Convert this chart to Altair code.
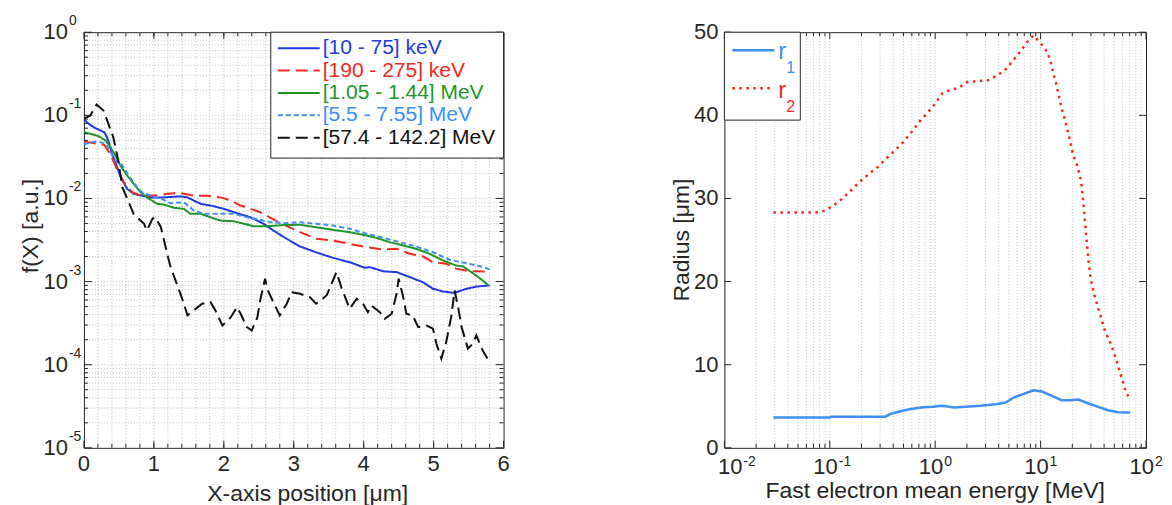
import altair as alt
import pandas as pd

FONT = "Liberation Sans"
AX = "#262626"
GRID = "#c4c4c4"
W1, W2, H = 420, 422, 416
LAB = 22      # tick label size
EXP = 14      # exponent size
TIT = 23      # axis title size

# ---------------- left panel data ----------------
names_left = ["[10 - 75] keV", "[190 - 275] keV", "[1.05 - 1.44] MeV",
              "[5.5 - 7.55] MeV", "[57.4 - 142.2] MeV"]
colors_left = ["#1f3be0", "#ee2b1f", "#20962a", "#3d8ef5", "#111111"]
dash_left = [[1, 0], [12, 6], [1, 0], [5, 3], [12, 6]]

x_blue = [0, 0.07, 0.14, 0.21, 0.29, 0.33, 0.37, 0.40, 0.45, 0.50, 0.55, 0.62, 0.71, 0.83, 0.95,
          1.14, 1.38, 1.48, 1.57, 1.67, 1.81, 2.00, 2.19, 2.38, 2.57, 2.71, 2.86, 3.09, 3.32,
          3.56, 3.80, 4.01, 4.09, 4.28, 4.47, 4.66, 4.85, 4.99, 5.13, 5.30, 5.47, 5.61, 5.80]
f_blue = [0.0887, 0.0789, 0.0718, 0.0673, 0.0625, 0.0545, 0.0433, 0.0344, 0.0272, 0.0207, 0.0164,
          0.0130, 0.0114, 0.0108, 0.0103, 0.0103, 0.0106, 0.0103, 0.00944, 0.00861, 0.00822, 0.0075,
          0.00664, 0.00594, 0.00495, 0.00411, 0.00342, 0.00264, 0.00225, 0.00193, 0.00171, 0.00147,
          0.00149, 0.00133, 0.0013, 0.00113, 0.00098, 0.00082, 0.00076, 0.00073, 0.00082, 0.00087, 0.0009]

x_red = [0, 0.07, 0.19, 0.29, 0.36, 0.43, 0.50, 0.60, 0.69, 0.81, 0.95, 1.10, 1.19, 1.38, 1.57,
         1.76, 1.95, 2.10, 2.24, 2.38, 2.52, 2.66, 2.81, 3.09, 3.32, 3.56, 3.80, 4.04, 4.28, 4.47,
         4.66, 4.85, 4.99, 5.18, 5.32, 5.51, 5.80]
f_red = [0.049, 0.0473, 0.0453, 0.0441, 0.0359, 0.0272, 0.0198, 0.0143, 0.0119, 0.0108, 0.0108,
         0.011, 0.0114, 0.0116, 0.0108, 0.0108, 0.0103, 0.00944, 0.00822, 0.0075, 0.00682, 0.00589,
         0.00504, 0.00393, 0.00327, 0.00312, 0.00284, 0.00259, 0.00243, 0.00248, 0.00216, 0.0020,
         0.00171, 0.00164, 0.00143, 0.00133, 0.00132]

x_green = [0, 0.10, 0.21, 0.31, 0.38, 0.45, 0.52, 0.62, 0.71, 0.81, 0.93, 1.05, 1.14, 1.29, 1.43,
           1.52, 1.67, 1.81, 1.95, 2.14, 2.29, 2.43, 2.62, 2.85, 3.09, 3.32, 3.56, 3.80, 4.04, 4.18,
           4.37, 4.56, 4.75, 4.94, 5.13, 5.32, 5.42, 5.61, 5.78]
f_green = [0.0625, 0.0597, 0.056, 0.0497, 0.0412, 0.0328, 0.0249, 0.0188, 0.015, 0.0119, 0.00989,
           0.00861, 0.00845, 0.00771, 0.0075, 0.00653, 0.00653, 0.00594, 0.00542, 0.00532, 0.00495,
           0.00463, 0.00463, 0.00479, 0.00482, 0.00451, 0.00419, 0.00393, 0.00358, 0.00336, 0.00298,
           0.00272, 0.00248, 0.00216, 0.0018, 0.00156, 0.00152, 0.00118, 0.00091]

x_lblue = [0, 0.10, 0.21, 0.31, 0.38, 0.45, 0.55, 0.64, 0.74, 0.83, 0.95, 1.10, 1.24, 1.43, 1.57,
           1.71, 1.90, 2.14, 2.33, 2.52, 2.67, 2.85, 3.09, 3.32, 3.56, 3.80, 4.04, 4.28, 4.51, 4.75,
           4.99, 5.23, 5.47, 5.70, 5.80]
f_lblue = [0.0445, 0.0473, 0.0483, 0.0453, 0.0359, 0.0286, 0.0249, 0.0188, 0.0143, 0.0119, 0.0108,
           0.0100, 0.00875, 0.0090, 0.00716, 0.00653, 0.00653, 0.00653, 0.00594, 0.00553, 0.00518,
           0.00504, 0.00518, 0.00495, 0.00472, 0.00432, 0.00376, 0.00336, 0.00298, 0.00264, 0.00225,
           0.00183, 0.00166, 0.0015, 0.0014]

x_black = [0, 0.09, 0.18, 0.28, 0.35, 0.42, 0.49, 0.55, 0.62, 0.71, 0.86, 0.90, 0.98, 1.02, 1.10,
           1.14, 1.19, 1.24, 1.31, 1.38, 1.43, 1.48, 1.57, 1.69, 1.81, 1.88, 1.98, 2.10, 2.19, 2.24,
           2.33, 2.40, 2.48, 2.52, 2.59, 2.63, 2.73, 2.80, 2.90, 2.97, 3.09, 3.23, 3.32, 3.47, 3.56,
           3.61, 3.68, 3.80, 3.90, 3.99, 4.06, 4.11, 4.23, 4.30, 4.40, 4.47, 4.50, 4.56, 4.61, 4.70,
           4.78, 4.90, 4.99, 5.04, 5.11, 5.18, 5.25, 5.30, 5.35, 5.40, 5.49, 5.56, 5.61, 5.70, 5.80]
f_black = [0.0912, 0.099, 0.135, 0.114, 0.0789, 0.0545, 0.0286, 0.0136, 0.00989, 0.00653,
           0.00495, 0.00411, 0.00569, 0.00594, 0.00451, 0.00327, 0.00216, 0.00149, 0.00103, 0.000713,
           0.000541, 0.000392, 0.00045, 0.000541, 0.000565, 0.00045, 0.000296, 0.000373, 0.000492, 0.00041,
           0.000283, 0.000258, 0.000373, 0.000593, 0.00108, 0.000782, 0.000516, 0.000392, 0.000541, 0.000746,
           0.000713, 0.00065, 0.000541, 0.000681, 0.00103, 0.0013, 0.000857, 0.000471, 0.000621, 0.000541,
           0.000429, 0.000516, 0.000429, 0.000357, 0.00041, 0.000713, 0.00108, 0.000681, 0.00041, 0.000392,
           0.000283, 0.000296, 0.000271, 0.000179, 0.000118, 0.000187, 0.000373, 0.000782, 0.000492, 0.000283,
           0.000156, 0.000179, 0.000225, 0.000149, 0.000107]

left_x_ticks = [0, 1, 2, 3, 4, 5, 6]
left_x_labels = ["0", "1", "2", "3", "4", "5", "6"]
left_y_ticks = [1e-5, 1e-4, 1e-3, 1e-2, 1e-1, 1]
left_y_exps = ["-5", "-4", "-3", "-2", "-1", "0"]
left_x_title = "X-axis position [μm]"
left_y_title = "f(X) [a.u.]"

# ---------------- right panel data ----------------
E_r2 = [0.0292, 0.0427, 0.0569, 0.0697, 0.0847, 0.100, 0.122, 0.151, 0.188, 0.233, 0.280, 0.343,
        0.417, 0.499, 0.597, 0.716, 0.845, 1.00, 1.16, 1.35, 1.66, 2.02, 2.51, 3.12, 3.74, 4.57,
        5.48, 6.43, 7.43, 8.59, 10.3, 11.7, 12.6, 13.3, 14.0, 14.6, 15.3, 16.1, 17.1, 18.0, 18.8,
        19.7, 20.8, 22.3, 23.7, 24.5, 25.5, 26.4, 27.4, 28.4, 29.9, 32.8, 36.6, 40.7, 47.1, 52.5,
        58.5, 65.2, 70.8]
r2 = [28.3, 28.3, 28.3, 28.3, 28.4, 28.9, 29.6, 30.7, 31.9, 32.9, 33.7, 34.8, 35.8, 36.8, 38.0,
      39.3, 40.3, 41.4, 42.6, 43.0, 43.3, 44.0, 44.1, 44.2, 44.7, 45.4, 46.6, 47.7, 48.8, 49.6,
      48.5, 47.5, 46.2, 44.9, 43.9, 42.8, 41.7, 40.5, 39.4, 38.3, 37.2, 36.0, 34.9, 33.9, 32.7,
      31.5, 29.3, 27.1, 24.8, 22.6, 20.3, 18.1, 16.1, 14.1, 12.3, 10.5, 8.5, 6.5, 6.0]
E_r1 = [0.0292, 0.100, 0.102, 0.336, 0.374, 0.457, 0.569, 0.733, 0.944, 1.17, 1.51, 1.95, 2.69,
        3.74, 4.65, 5.56, 6.92, 8.59, 10.3, 12.8, 15.8, 19.1, 22.8, 28.4, 35.2, 43.6, 54.4, 70.8]
r1 = [3.64, 3.64, 3.75, 3.75, 4.05, 4.37, 4.65, 4.85, 4.93, 5.05, 4.85, 4.93, 5.05, 5.25, 5.45,
      6.05, 6.5, 6.93, 6.77, 6.25, 5.73, 5.73, 5.8, 5.33, 4.93, 4.53, 4.29, 4.24]
col_r1, col_r2 = "#3d8ef5", "#ee2b1f"

right_x_ticks = [0.01, 0.1, 1, 10, 100]
right_x_exps = ["-2", "-1", "0", "1", "2"]
right_y_ticks = [0, 10, 20, 30, 40, 50]
right_y_labels = ["0", "10", "20", "30", "40", "50"]
right_x_title = "Fast electron mean energy [MeV]"
right_y_title = "Radius [μm]"

one = pd.DataFrame({"k": [0]})


def vrules(vals, scale, **mk):
    return alt.Chart(pd.DataFrame({"g": vals})).mark_rule(**mk).encode(
        x=alt.X("g:Q", scale=scale, axis=None))


def hrules(vals, scale, **mk):
    return alt.Chart(pd.DataFrame({"g": vals})).mark_rule(**mk).encode(
        y=alt.Y("g:Q", scale=scale, axis=None))


def xticks(vals, scale, length):
    d = pd.DataFrame({"t": vals})
    xe = alt.X("t:Q", scale=scale, axis=None)
    b = alt.Chart(d).mark_rule(color=AX, strokeWidth=1).encode(
        x=xe, y=alt.value(H), y2=alt.value(H - length))
    t = alt.Chart(d).mark_rule(color=AX, strokeWidth=1).encode(
        x=xe, y=alt.value(0), y2=alt.value(length))
    return [b, t]


def yticks(vals, scale, length, width):
    d = pd.DataFrame({"t": vals})
    ye = alt.Y("t:Q", scale=scale, axis=None)
    l = alt.Chart(d).mark_rule(color=AX, strokeWidth=1).encode(
        y=ye, x=alt.value(0), x2=alt.value(length))
    r = alt.Chart(d).mark_rule(color=AX, strokeWidth=1).encode(
        y=ye, x=alt.value(width), x2=alt.value(width - length))
    return [l, r]


def title_text(txt, x, y, angle=0):
    kw = dict(font=FONT, fontSize=TIT, color=AX, align="center", text=txt)
    if angle:
        kw["angle"] = angle
        kw["baseline"] = "middle"
    else:
        kw["baseline"] = "alphabetic"
    return alt.Chart(one).mark_text(**kw).encode(x=alt.value(x), y=alt.value(y))


gridstyle = dict(color=GRID, strokeDash=[1, 2], strokeWidth=1)

# ================= LEFT PANEL =================
xsL = alt.Scale(domain=[0, 6], nice=False, zero=False)
ysL = alt.Scale(type="log", domain=[1e-5, 1], nice=False)

left_series = [(x_blue, f_blue), (x_red, f_red), (x_green, f_green),
               (x_lblue, f_lblue), (x_black, f_black)]
rows = []
for name, (xs, fs) in zip(names_left, left_series):
    for xv, fv in zip(xs, fs):
        rows.append({"x": xv, "f": fv, "series": name})
dfL = pd.DataFrame(rows)

minor_x = [round(0.2 * i, 1) for i in range(1, 30)]
minor_y = [k * 10.0 ** d for d in range(-5, 0) for k in range(1, 10) if not (d == -5 and k == 1)]
minor_y_only = [k * 10.0 ** d for d in range(-5, 0) for k in range(2, 10)]

lines_L = alt.Chart(dfL).mark_line(strokeWidth=2, clip=True).encode(
    x=alt.X("x:Q", scale=xsL, axis=None),
    y=alt.Y("f:Q", scale=ysL, axis=None),
    color=alt.Color("series:N", scale=alt.Scale(domain=names_left, range=colors_left), legend=None),
    strokeDash=alt.StrokeDash("series:N", scale=alt.Scale(domain=names_left, range=dash_left),
                              legend=None),
)

lab_x_L = alt.Chart(pd.DataFrame({"t": left_x_ticks, "lab": left_x_labels})).mark_text(
    font=FONT, fontSize=LAB, color=AX, align="center", baseline="alphabetic").encode(
    x=alt.X("t:Q", scale=xsL, axis=None), y=alt.value(H + 23), text="lab:N")
dfy = pd.DataFrame({"t": left_y_ticks, "e": left_y_exps})
lab_y10_L = alt.Chart(dfy).mark_text(
    font=FONT, fontSize=LAB, color=AX, align="right", baseline="alphabetic", dy=7, text="10").encode(
    y=alt.Y("t:Q", scale=ysL, axis=None), x=alt.value(-16))
lab_yexp_L = alt.Chart(dfy).mark_text(
    font=FONT, fontSize=EXP, color=AX, align="left", baseline="alphabetic", dy=-7).encode(
    y=alt.Y("t:Q", scale=ysL, axis=None), x=alt.value(-15), text="e:N")

leg_box_L = alt.Chart(one).mark_rect(fill="white", stroke=AX, strokeWidth=1).encode(
    x=alt.value(187), x2=alt.value(W1), y=alt.value(0), y2=alt.value(126))
leg_items_L = []
for i, (nm, c, dsh) in enumerate(zip(names_left, colors_left, dash_left)):
    ry = 16 + 22.4 * i
    leg_items_L.append(alt.Chart(one).mark_rule(color=c, strokeDash=dsh, strokeWidth=2).encode(
        x=alt.value(194), x2=alt.value(236), y=alt.value(ry)))
    leg_items_L.append(alt.Chart(pd.DataFrame({"name": [nm]})).mark_text(
        font=FONT, fontSize=21, color=c, align="left", baseline="middle").encode(
        x=alt.value(239), y=alt.value(ry), text="name:N"))

left = alt.layer(
    vrules(minor_x, xsL, **gridstyle),
    hrules(minor_y, ysL, **gridstyle),
    lines_L,
    *xticks(left_x_ticks, xsL, 7),
    *xticks(minor_x, xsL, 4),
    *yticks(left_y_ticks, ysL, 8, W1),
    *yticks(minor_y_only, ysL, 4, W1),
    lab_x_L, lab_y10_L, lab_yexp_L,
    title_text(left_x_title, W1 / 2 + 14, H + 53),
    title_text(left_y_title, -53, H / 2 - 14, angle=270),
    leg_box_L, *leg_items_L,
).properties(width=W1, height=H)

# ================= RIGHT PANEL =================
xsR = alt.Scale(type="log", domain=[0.01, 100], nice=False)
ysR = alt.Scale(domain=[0, 50], nice=False, zero=True)

minor_e = [k * 10.0 ** d for d in range(-2, 2) for k in range(1, 10) if not (d == -2 and k == 1)]
minor_e_only = [k * 10.0 ** d for d in range(-2, 2) for k in range(2, 10)]

df_r1 = pd.DataFrame({"E": E_r1, "r": r1})
df_r2 = pd.DataFrame({"E": E_r2, "r": r2})

line_r1 = alt.Chart(df_r1).mark_line(color=col_r1, strokeWidth=2.5, clip=True).encode(
    x=alt.X("E:Q", scale=xsR, axis=None), y=alt.Y("r:Q", scale=ysR, axis=None))
line_r2 = alt.Chart(df_r2).mark_line(color=col_r2, strokeWidth=2.5, strokeDash=[2.5, 4.5],
                                     clip=True).encode(
    x=alt.X("E:Q", scale=xsR, axis=None), y=alt.Y("r:Q", scale=ysR, axis=None))


def xlab_R(ticks, exps, shift):
    d = pd.DataFrame({"t": ticks, "e": exps})
    a = alt.Chart(d).mark_text(
        font=FONT, fontSize=LAB, color=AX, align="right", baseline="alphabetic",
        dx=shift, text="10").encode(x=alt.X("t:Q", scale=xsR, axis=None), y=alt.value(H + 26))
    b = alt.Chart(d).mark_text(
        font=FONT, fontSize=EXP, color=AX, align="left", baseline="alphabetic",
        dx=shift + 1).encode(x=alt.X("t:Q", scale=xsR, axis=None), y=alt.value(H + 18), text="e:N")
    return [a, b]


lab_y_R = alt.Chart(pd.DataFrame({"t": right_y_ticks, "lab": right_y_labels})).mark_text(
    font=FONT, fontSize=LAB, color=AX, align="right", baseline="alphabetic", dy=7).encode(
    y=alt.Y("t:Q", scale=ysR, axis=None), x=alt.value(-6), text="lab:N")

leg_box_R = alt.Chart(one).mark_rect(fill="white", stroke=AX, strokeWidth=1).encode(
    x=alt.value(0), x2=alt.value(76), y=alt.value(0), y2=alt.value(88))
leg_R = [
    alt.Chart(one).mark_rule(color=col_r1, strokeWidth=2.5).encode(
        x=alt.value(8), x2=alt.value(50), y=alt.value(18)),
    alt.Chart(one).mark_text(font=FONT, fontSize=24, color=col_r1, align="left",
                             baseline="alphabetic", text="r").encode(x=alt.value(54), y=alt.value(27)),
    alt.Chart(one).mark_text(font=FONT, fontSize=16, color=col_r1, align="left",
                             baseline="alphabetic", text="1").encode(x=alt.value(62), y=alt.value(41)),
    alt.Chart(one).mark_rule(color=col_r2, strokeWidth=2.5, strokeDash=[2.5, 4.5]).encode(
        x=alt.value(8), x2=alt.value(50), y=alt.value(56)),
    alt.Chart(one).mark_text(font=FONT, fontSize=24, color=col_r2, align="left",
                             baseline="alphabetic", text="r").encode(x=alt.value(54), y=alt.value(66)),
    alt.Chart(one).mark_text(font=FONT, fontSize=16, color=col_r2, align="left",
                             baseline="alphabetic", text="2").encode(x=alt.value(62), y=alt.value(80)),
]

right = alt.layer(
    vrules(minor_e, xsR, **gridstyle),
    line_r1, line_r2,
    *xticks(right_x_ticks, xsR, 7),
    *xticks(minor_e_only, xsR, 4),
    *yticks(right_y_ticks, ysR, 7, W2),
    *xlab_R(right_x_ticks[:1], right_x_exps[:1], 18),
    *xlab_R(right_x_ticks[1:], right_x_exps[1:], 8),
    lab_y_R,
    title_text(right_x_title, W2 / 2, H + 50),
    title_text(right_y_title, -42, H / 2, angle=270),
    leg_box_R, *leg_R,
).properties(width=W2, height=H)

chart = alt.hconcat(left, right, spacing=160).configure_view(
    stroke=AX, strokeWidth=1
).properties(
    background="white",
    padding={"left": 11, "top": 5, "right": 0, "bottom": 0},
)

chart.save("out.html", embed_options={"renderer": "svg", "actions": False})
